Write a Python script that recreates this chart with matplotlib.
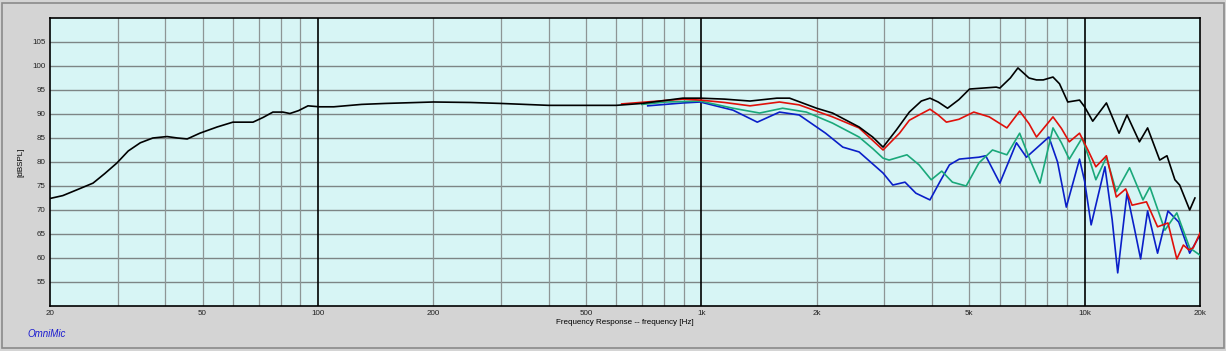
"""OmniMic frequency response, four measurement curves on a log axis."""
import matplotlib
matplotlib.use("Agg")
import matplotlib.pyplot as plt
from matplotlib.patches import Rectangle

plt.rcParams["font.family"] = ["Liberation Sans", "DejaVu Sans"]

# black (on-axis, full range)
black_f = [20, 21.6, 23.5, 25.9, 27.8, 29.9, 32, 34.4, 37.1, 40.4, 43, 45.6,
           49.2, 54.6, 60, 67.7, 72, 76.3, 81, 84.5, 89, 94.2, 101, 110, 130,
           150, 200, 250, 300, 400, 500, 600, 700, 800, 895, 994, 1150, 1340,
           1575, 1700, 2000, 2200, 2580, 2800, 2980, 3230, 3490, 3750, 3950,
           4150, 4390, 4700, 5010, 5880, 6010, 6400, 6700, 7160, 7490, 7800,
           8270, 8600, 9040, 9700, 10000, 10500, 11400, 12300, 12900, 13900,
           14600, 15700, 16400, 17200, 17700, 18800, 19400]
black_db = [72.4, 73.0, 74.2, 75.6, 77.6, 79.8, 82.3, 84.0, 85.0, 85.3, 85.0,
            84.8, 86.0, 87.3, 88.3, 88.3, 89.3, 90.4, 90.4, 90.1, 90.7, 91.7,
            91.5, 91.5, 92.0, 92.2, 92.5, 92.4, 92.2, 91.8, 91.8, 91.8, 92.2,
            92.8, 93.3, 93.3, 93.1, 92.7, 93.3, 93.3, 91.2, 90.2, 87.3, 85.2,
            83.1, 86.7, 90.4, 92.7, 93.3, 92.5, 91.2, 93.0, 95.2, 95.6, 95.4,
            97.5, 99.6, 97.5, 97.1, 97.1, 97.7, 96.3, 92.5, 92.9, 91.5, 88.5,
            92.3, 86.0, 89.8, 84.2, 87.1, 80.4, 81.3, 76.3, 75.2, 70.0, 72.5]

red_f = [620, 895, 994, 1150, 1340, 1600, 1800, 2200, 2580, 2800, 2980, 3290,
         3490, 3700, 3950, 4150, 4360, 4700, 5140, 5640, 6270, 6770, 7160,
         7490, 8270, 8700, 9120, 9700, 10200, 10700, 11400, 12100, 12800,
         13300, 14500, 15500, 16500, 17400, 18100, 18700, 19200, 20000]
red_db = [92.1, 93.1, 92.9, 92.4, 91.7, 92.5, 91.9, 89.4, 87.1, 84.5, 82.5,
          86.0, 88.7, 89.8, 91.0, 89.8, 88.3, 88.9, 90.4, 89.4, 87.1, 90.6,
          88.0, 85.2, 89.4, 87.0, 84.2, 86.0, 82.5, 79.0, 81.3, 72.7, 74.4,
          71.0, 71.7, 66.5, 67.3, 59.8, 62.7, 61.7, 62.1, 65.2]

green_f = [700, 811, 994, 1210, 1420, 1630, 1880, 2200, 2580, 2800, 2980, 3090,
           3440, 3700, 3980, 4240, 4520, 4910, 5300, 5750, 6270, 6770, 7200,
           7650, 8270, 8700, 9120, 9850, 10300, 10700, 11400, 12100, 13100,
           14200, 14800, 16200, 17400, 18800, 20000]
green_db = [92.0, 92.5, 92.7, 91.2, 90.2, 91.2, 90.4, 88.1, 85.2, 82.8, 80.8,
            80.4, 81.5, 79.4, 76.3, 78.1, 75.8, 75.0, 79.8, 82.5, 81.5, 86.0,
            80.5, 75.6, 87.1, 84.0, 80.6, 85.0, 80.5, 76.3, 81.0, 73.8, 78.8,
            72.1, 74.8, 65.8, 69.4, 62.1, 60.6]

blue_f = [725, 895, 994, 1210, 1400, 1600, 1800, 2110, 2340, 2580, 2980, 3160,
          3400, 3630, 3950, 4200, 4440, 4710, 5300, 5520, 6010, 6640, 7050,
          8070, 8500, 8960, 9700, 10000, 10400, 11300, 11800, 12200, 12900,
          13500, 14000, 14600, 15500, 16500, 17600, 18800, 20000]
blue_db = [91.7, 92.3, 92.5, 90.8, 88.3, 90.4, 89.8, 86.0, 83.1, 82.1, 77.7,
           75.2, 75.8, 73.5, 72.1, 76.0, 79.4, 80.6, 81.0, 81.3, 75.6, 84.0,
           81.0, 85.2, 80.0, 70.6, 80.6, 76.0, 66.9, 79.0, 68.0, 56.9, 73.5,
           66.0, 59.8, 69.8, 61.0, 69.8, 67.5, 61.0, 64.8]

x_ticks = [20, 50, 100, 200, 500, 1000, 2000, 5000, 10000, 20000]
x_labels = ["20", "50", "100", "200", "500", "1k", "2k", "5k", "10k", "20k"]
y_ticks = [55, 60, 65, 70, 75, 80, 85, 90, 95, 100, 105]

fig = plt.figure(figsize=(12.26, 3.51), dpi=100, facecolor="#d4d4d4")
fig.patches.append(Rectangle((0.002, 0.008), 0.996, 0.984, transform=fig.transFigure,
                             fill=False, edgecolor="#8a8a8a", linewidth=1.2))
ax = fig.add_axes([50 / 1226, 1 - 306 / 351, 1150 / 1226, 288 / 351])
ax.set_facecolor("#d7f5f5")
ax.set_xscale("log")
ax.set_xlim(20, 20000)
ax.set_ylim(50, 110)

# grid: dB lines, minor frequency lines, decade lines in black
for y in y_ticks:
    ax.axhline(y, color="#7d8585", linewidth=1.0, zorder=1)
for dec in (10, 100, 1000, 10000):
    for m in range(2, 10):
        f = dec * m
        if 20 < f < 20000:
            ax.axvline(f, color="#8d9595", linewidth=0.9, zorder=1)
for f in (100, 1000, 10000):
    ax.axvline(f, color="black", linewidth=1.2, zorder=1)

ax.plot(black_f, black_db, color="black", linewidth=1.2, zorder=5)
ax.plot(green_f, green_db, color="#1aa87a", linewidth=1.2, zorder=3)
ax.plot(blue_f, blue_db, color="#0a1fc8", linewidth=1.2, zorder=2)
ax.plot(red_f, red_db, color="#e0100a", linewidth=1.2, zorder=4)

ax.set_xticks(x_ticks)
ax.set_xticklabels(x_labels)
ax.minorticks_off()
ax.set_yticks(y_ticks)
ax.tick_params(length=0, labelsize=5.8, pad=3, colors="#222222")
for s in ax.spines.values():
    s.set_color("black")
    s.set_linewidth(1.2)

ax.set_xlabel("Frequency Response -- frequency [Hz]", fontsize=5.8, labelpad=1)
ax.set_ylabel("[dBSPL]", fontsize=5.8, labelpad=6)
fig.text(27 / 1226, 1 - 334 / 351, "OmniMic", color="#1a1ad0", fontsize=7,
         style="italic", va="center")

fig.savefig("out.png", dpi=100, facecolor=fig.get_facecolor())
